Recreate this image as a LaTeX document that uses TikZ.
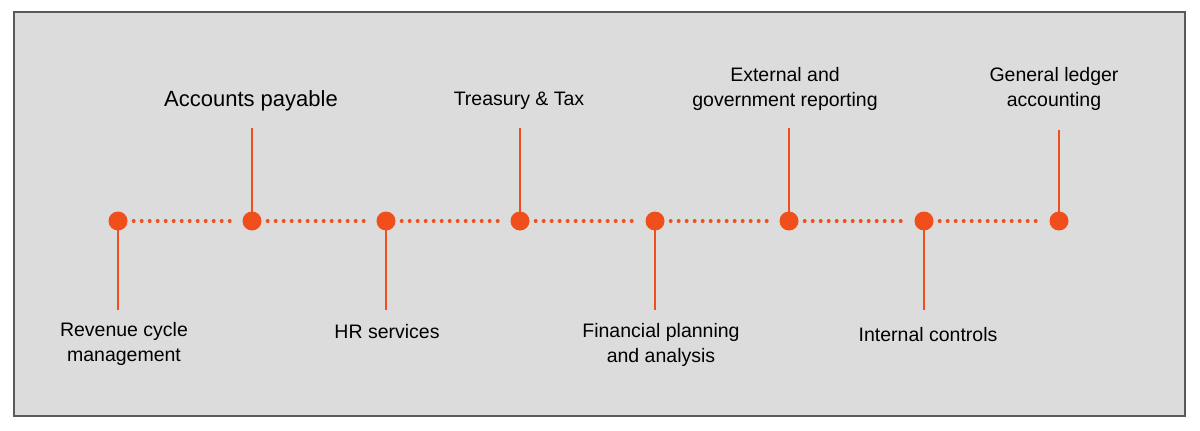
\documentclass[tikz,border=0pt]{standalone}
\usepackage{fontspec}
\setmainfont{Liberation Sans}
\definecolor{org}{HTML}{F04E1A}
\definecolor{bg}{HTML}{DCDCDC}
\definecolor{frame}{HTML}{5A5A5A}
\begin{document}
\begin{tikzpicture}[x=1pt,y=-1pt,
  dot/.style={circle,fill=org,inner sep=0pt,minimum size=19pt},
  stem/.style={org,line width=2.2pt},
  link/.style={org,line width=4pt,line cap=round,dash pattern=on 0pt off 8pt},
  lbl/.style={align=center,font=\fontsize{19.5}{25}\selectfont,text=black}]
\useasboundingbox (0,0) rectangle (1200,431);
\fill[white] (0,0) rectangle (1200,431);
\draw[fill=bg,draw=frame,line width=1.5pt] (14,12) rectangle (1185,416);
\foreach \n/\x in {1/118,2/252,3/386,4/520,5/655,6/789,7/924,8/1059}
  \node[dot] (d\n) at (\x,221) {};
\foreach \a/\b in {1/2,2/3,3/4,4/5,5/6,6/7,7/8}
  \draw[link] ([xshift=6pt]d\a.east) -- ([xshift=-6pt]d\b.west);
\coordinate (t2) at (252,128); \coordinate (t4) at (520,128);
\coordinate (t6) at (789,128); \coordinate (t8) at (1059,130);
\coordinate (b1) at (118,310); \coordinate (b3) at (386,310);
\coordinate (b5) at (655,310); \coordinate (b7) at (924,310);
\foreach \n in {2,4,6,8} \draw[stem] (d\n.center) -- (t\n);
\foreach \n in {1,3,5,7} \draw[stem] (d\n.center) -- (b\n);
\node[lbl,font=\fontsize{22}{25}\selectfont] (l2) at (251,101) {Accounts payable};
\node[lbl] (l4) at (519,101) {Treasury \& Tax};
\node[lbl] (l6) at (785,89) {External and\\government reporting};
\node[lbl] (l8) at (1054,89) {General ledger\\accounting};
\node[lbl] (l1) at (124,344) {Revenue cycle\\management};
\node[lbl] (l3) at (387,332) {HR services};
\node[lbl] (l5) at (661,345) {Financial planning\\and analysis};
\node[lbl] (l7) at (928,335) {Internal controls};
\end{tikzpicture}
\end{document}
